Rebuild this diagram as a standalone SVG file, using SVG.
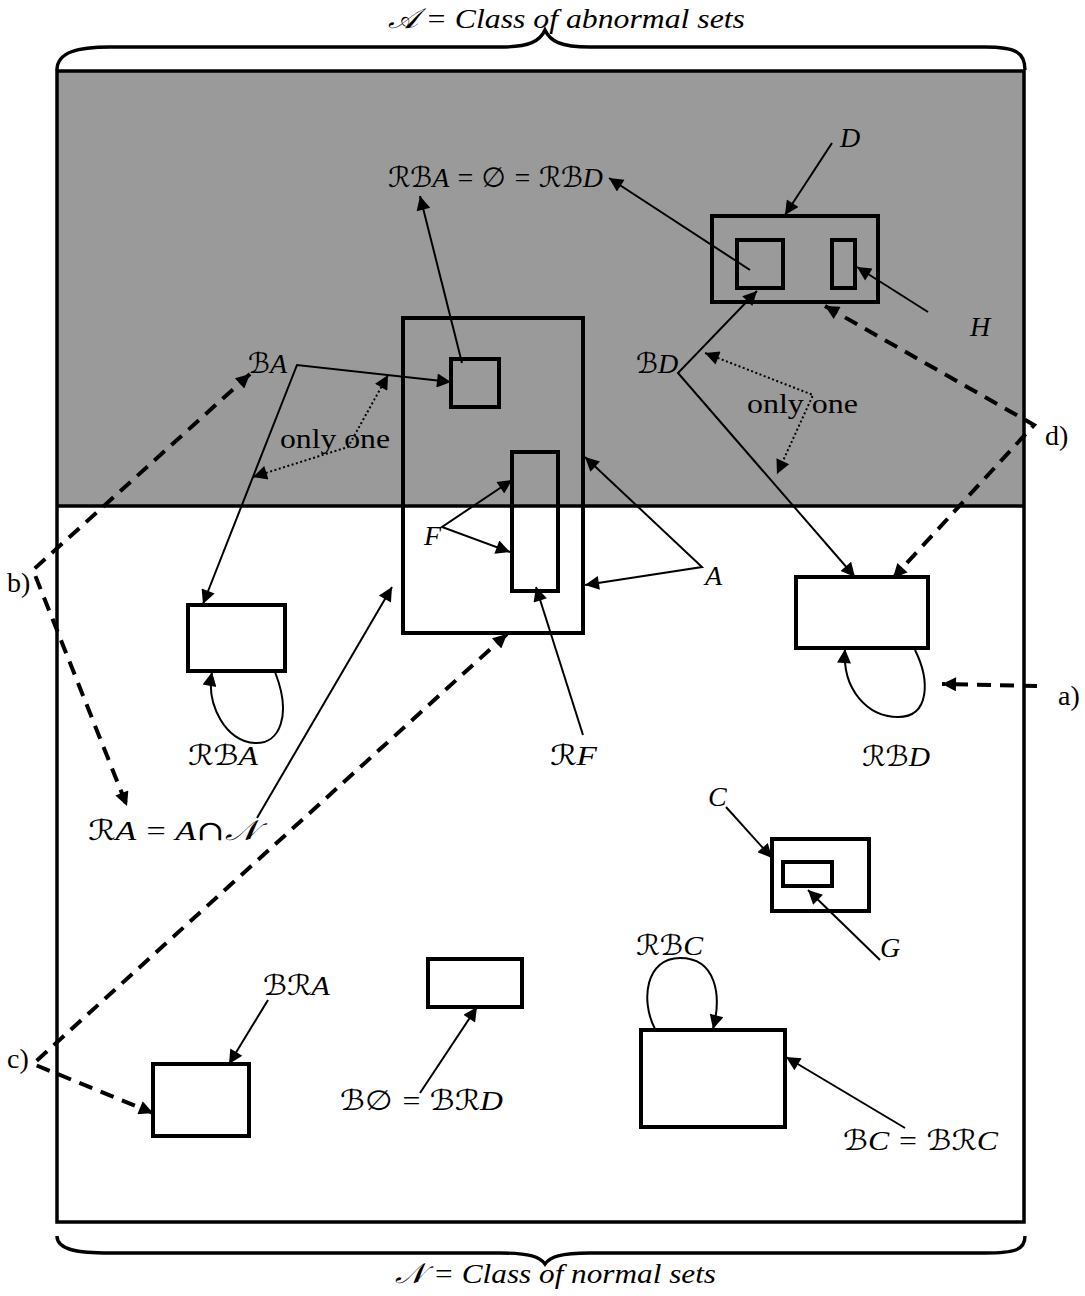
<svg xmlns="http://www.w3.org/2000/svg" width="1085" height="1296" viewBox="0 0 1085 1296">
<style>
.box{fill:none;stroke:#000;stroke-width:4}
.ln{fill:none;stroke:#000;stroke-width:2}
.dash{fill:none;stroke:#000;stroke-width:4;stroke-dasharray:14 9}
.dot{fill:none;stroke:#000;stroke-width:2;stroke-dasharray:2 2.5}
.brace{fill:none;stroke:#000;stroke-width:3.4}
.lab{font-family:'Liberation Serif',serif;font-style:italic;font-size:28px;fill:#000}
.txt{font-family:'Liberation Serif',serif;font-size:28px;fill:#000}
.s{font-family:'DejaVu Serif','DejaVu Sans',serif}
</style>
<defs>
<marker id="ah" viewBox="0 0 10 10" refX="10" refY="5" markerUnits="userSpaceOnUse" markerWidth="18" markerHeight="14" orient="auto-start-reverse">
<path d="M0,0 L10,5 L0,10 z" fill="#000"/>
</marker>
</defs>
<rect x="0" y="0" width="1085" height="1296" fill="#fff"/>

<g id="braces">
<path class="brace" d="M57,70 C57,52 78,47 110,47 L500,47 C530,47 540,41 545,30 C550,41 560,47 590,47 L985,47 C1015,47 1025,52 1025,70"/>
<path class="brace" d="M57,1236 C57,1250 78,1253 110,1253 L500,1253 C530,1253 540,1257 545,1264 C550,1257 560,1253 590,1253 L985,1253 C1015,1253 1025,1250 1025,1236"/>
<text class="lab" x="388" y="28" textLength="357" lengthAdjust="spacingAndGlyphs"><tspan class="s">𝒜</tspan> = Class of abnormal sets</text>
<text class="lab" x="395" y="1283" textLength="321" lengthAdjust="spacingAndGlyphs"><tspan class="s">𝒩</tspan> = Class of normal sets</text>
</g>

<g id="frame">
<rect x="57" y="71" width="967" height="435" fill="#9a9a9a"/>
<rect x="57" y="71" width="967" height="1151" fill="none" stroke="#000" stroke-width="3.5"/>
<line x1="57" y1="506" x2="1024" y2="506" stroke="#000" stroke-width="3.5"/>
</g>

<g id="node-A"><rect class="box" x="403" y="318" width="180" height="315"/></g>
<g id="node-BAsq"><rect class="box" x="451" y="359" width="48" height="48"/></g>
<g id="node-F"><rect class="box" x="512" y="452" width="46" height="139"/></g>
<g id="node-D">
<rect class="box" x="712" y="216" width="166" height="86"/>
<rect class="box" x="737" y="240" width="46" height="48"/>
<rect class="box" x="832" y="240" width="23" height="48"/>
</g>
<g id="node-RBD"><rect class="box" x="796" y="577" width="132" height="71"/></g>
<g id="node-RBA"><rect class="box" x="188" y="605" width="97" height="66"/></g>
<g id="node-C">
<rect class="box" x="772" y="839" width="97" height="72"/>
<rect class="box" x="783" y="862" width="49" height="24"/>
</g>
<g id="node-B0"><rect class="box" x="428" y="959" width="94" height="48"/></g>
<g id="node-BRC"><rect class="box" x="641" y="1030" width="144" height="97"/></g>
<g id="node-BRA"><rect class="box" x="153" y="1064" width="96" height="72"/></g>

<g id="connectors">
<line class="ln" x1="462" y1="363" x2="420" y2="196" marker-end="url(#ah)"/>
<line class="ln" x1="750" y1="270" x2="609" y2="178" marker-end="url(#ah)"/>
<path class="ln" d="M451,382 L297,365 L203,604" marker-start="url(#ah)" marker-end="url(#ah)"/>
<path class="dot" d="M388,375 L348,447 L253,477" marker-start="url(#ah)" marker-end="url(#ah)"/>
<path class="ln" d="M757,291 L678,373 L855,577" marker-start="url(#ah)" marker-end="url(#ah)"/>
<path class="dot" d="M705,353 L813,395 L777,474" marker-start="url(#ah)" marker-end="url(#ah)"/>
<line class="ln" x1="832" y1="143" x2="785" y2="215" marker-end="url(#ah)"/>
<line class="ln" x1="928" y1="312" x2="857" y2="267" marker-end="url(#ah)"/>
<path class="ln" d="M512,480 L442,527 L510,552" marker-start="url(#ah)" marker-end="url(#ah)"/>
<path class="ln" d="M585,457 L702,567 L585,585" marker-start="url(#ah)" marker-end="url(#ah)"/>
<line class="ln" x1="583" y1="735" x2="536" y2="587" marker-end="url(#ah)"/>
<line class="ln" x1="257" y1="818" x2="392" y2="587" marker-end="url(#ah)"/>
<path class="ln" d="M275,672 C292,715 280,744 255,743 C226,742 206,705 212,672" marker-end="url(#ah)"/>
<path class="ln" d="M915,650 C930,680 930,717 898,717 C868,717 842,690 845,649" marker-end="url(#ah)"/>
<path class="ln" d="M655,1029 C640,1000 646,958 680,958 C716,958 722,995 713,1029" marker-end="url(#ah)"/>
<line class="ln" x1="726" y1="807" x2="772" y2="858" marker-end="url(#ah)"/>
<line class="ln" x1="880" y1="960" x2="808" y2="890" marker-end="url(#ah)"/>
<line class="ln" x1="905" y1="1128" x2="786" y2="1057" marker-end="url(#ah)"/>
<line class="ln" x1="268" y1="1000" x2="229" y2="1064" marker-end="url(#ah)"/>
<line class="ln" x1="420" y1="1093" x2="477" y2="1007" marker-end="url(#ah)"/>
<line class="dash" x1="1037" y1="686" x2="942" y2="684" marker-end="url(#ah)"/>
<path class="dash" d="M250,374 L33,570 L127,806" marker-start="url(#ah)" marker-end="url(#ah)"/>
<path class="dash" d="M507,634 L33,1064 L153,1113" marker-start="url(#ah)" marker-end="url(#ah)"/>
<path class="dash" d="M825,306 L1034,425 L893,578" marker-start="url(#ah)" marker-end="url(#ah)"/>
</g>

<g id="labels">
<text class="lab" x="388" y="187" textLength="215" lengthAdjust="spacingAndGlyphs"><tspan class="s">ℛℬ</tspan>A = <tspan class="s">∅</tspan> = <tspan class="s">ℛℬ</tspan>D</text>
<text class="lab" x="248" y="373"><tspan class="s">ℬ</tspan>A</text>
<text class="txt" x="280" y="448" textLength="110" lengthAdjust="spacingAndGlyphs">only one</text>
<text class="lab" x="636" y="373"><tspan class="s">ℬ</tspan>D</text>
<text class="txt" x="747" y="413" textLength="111" lengthAdjust="spacingAndGlyphs">only one</text>
<text class="lab" x="840" y="147">D</text>
<text class="lab" x="970" y="336">H</text>
<text class="txt" x="1045" y="445">d)</text>
<text class="lab" x="424" y="545">F</text>
<text class="lab" x="705" y="585">A</text>
<text class="txt" x="7" y="592">b)</text>
<text class="lab" x="188" y="765" textLength="70" lengthAdjust="spacingAndGlyphs"><tspan class="s">ℛℬ</tspan>A</text>
<text class="lab" x="550" y="765" textLength="47" lengthAdjust="spacingAndGlyphs"><tspan class="s">ℛ</tspan>F</text>
<text class="lab" x="862" y="766" textLength="68" lengthAdjust="spacingAndGlyphs"><tspan class="s">ℛℬ</tspan>D</text>
<text class="txt" x="1058" y="705">a)</text>
<text class="lab" x="88" y="840" textLength="170" lengthAdjust="spacingAndGlyphs"><tspan class="s">ℛ</tspan>A = A<tspan class="s">∩𝒩</tspan></text>
<text class="lab" x="708" y="806">C</text>
<text class="lab" x="880" y="957">G</text>
<text class="lab" x="636" y="955" textLength="67" lengthAdjust="spacingAndGlyphs"><tspan class="s">ℛℬ</tspan>C</text>
<text class="lab" x="263" y="995" textLength="67" lengthAdjust="spacingAndGlyphs"><tspan class="s">ℬℛ</tspan>A</text>
<text class="txt" x="7" y="1068">c)</text>
<text class="lab" x="340" y="1110" textLength="163" lengthAdjust="spacingAndGlyphs"><tspan class="s">ℬ∅</tspan> = <tspan class="s">ℬℛ</tspan>D</text>
<text class="lab" x="843" y="1150" textLength="155" lengthAdjust="spacingAndGlyphs"><tspan class="s">ℬ</tspan>C = <tspan class="s">ℬℛ</tspan>C</text>
</g>
</svg>
